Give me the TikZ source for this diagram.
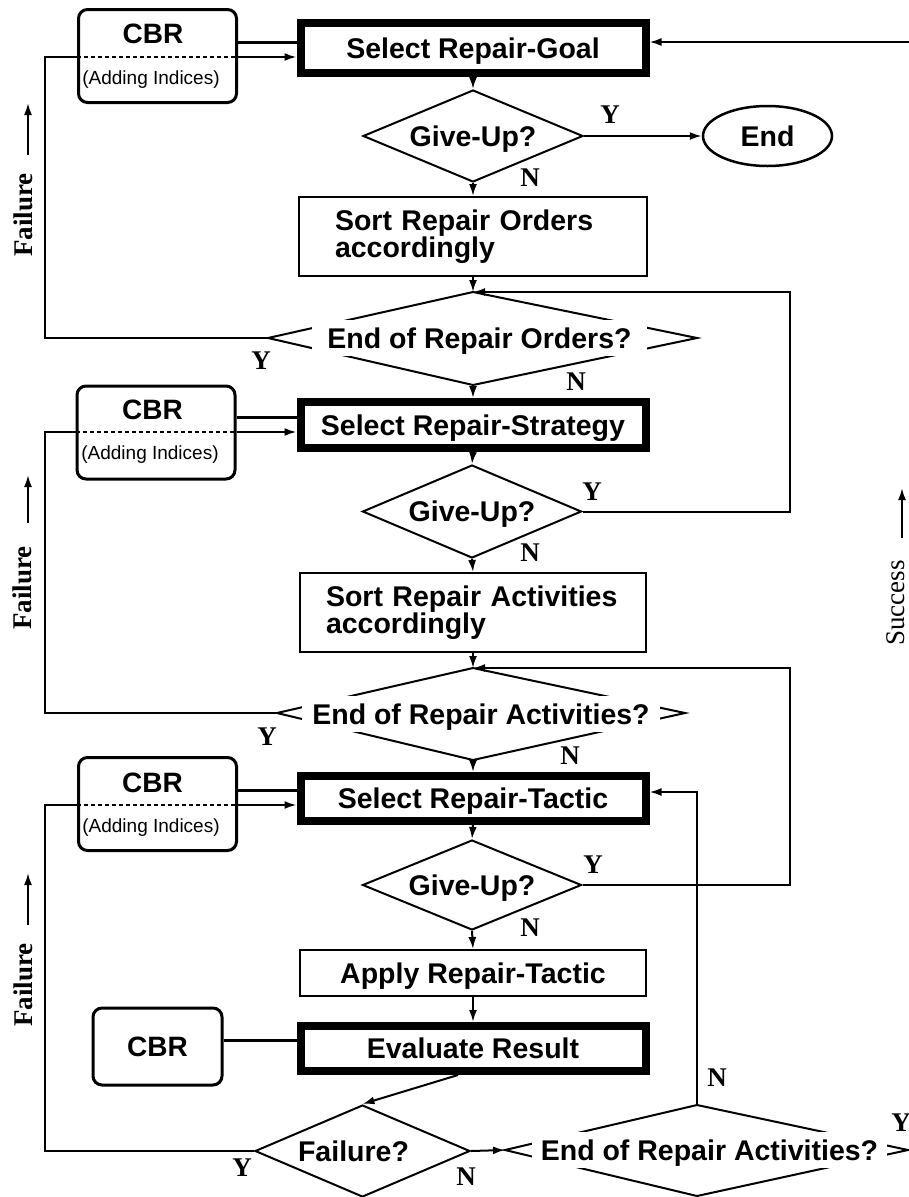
\documentclass[tikz,border=0pt]{standalone}
\usepackage{fontspec}
\setmainfont{Liberation Sans}
\newfontfamily\lblfont{Liberation Serif}
\usetikzlibrary{arrows.meta,shapes.geometric}
\begin{document}
\begin{tikzpicture}[x=1pt,y=-1pt,line width=2pt,
  bftwo/.style={font=\fontsize{28.5}{26}\selectfont\bfseries},
  bf/.style={bftwo, text depth=0pt},
  thickbox/.style={draw, line width=8pt, minimum width=345pt, minimum height=46pt, inner sep=0pt, bf},
  plainbox/.style={draw, line width=2pt, inner sep=0pt},
  cbrbox/.style={draw, line width=3pt, rounded corners=9pt, minimum width=158pt, minimum height=93pt, inner sep=0pt},
  decision/.style={draw, diamond, shape aspect=2.4, line width=2pt, minimum width=219pt, minimum height=92pt, inner sep=0pt, bf},
  gapped/.style={fill=white, inner sep=0pt, minimum height=36pt, bf},
  yn/.style={font=\lblfont\bfseries\fontsize{27}{27}\selectfont},
  sidelbl/.style={font=\lblfont\fontsize{27}{27}\selectfont, inner sep=0pt},
  cbrtext/.style={font=\fontsize{28}{28}\selectfont\bfseries},
  idxtext/.style={font=\fontsize{19}{19}\selectfont},
  arr/.style={-{Latex[length=12pt,width=8pt]}},
  cbrdash/.style={line width=2pt, dash pattern=on 4pt off 3pt},
  cbrlink/.style={line width=3pt}
]
\useasboundingbox (0,0) rectangle (909,1197);

% ---------- level 1 ----------
\node[cbrbox] (cbr1) at (157.5,56) {};
\node[cbrtext] (cbr1a) at (153,34) {CBR};
\node[idxtext] (cbr1b) at (151,80) {(Adding Indices)};
\node[thickbox, minimum height=50pt] (goal) at (473,48) {Select Repair-Goal};
\node[decision, minimum width=220pt] (gu1) at (473,136) {Give-Up?};
\node[draw, ellipse, line width=2.5pt, minimum width=129pt, minimum height=60pt, inner sep=0pt, bf] (end) at (767.5,136) {End};
\node[plainbox, bftwo, align=left, text width=276pt, inner xsep=36pt, minimum height=79pt] (sort1) at (473,236.5) {Sort Repair Orders\\accordingly};

\coordinate (eoT) at (473,292);
\coordinate (eoR) at (697,338);
\coordinate (eoB) at (473,385);
\coordinate (eoL) at (268,338);
\draw (eoT) -- (eoR) -- (eoB) -- (eoL) -- cycle;
\node[gapped, minimum width=335pt] (eo) at (479.5,338) {End of Repair Orders?};

% ---------- level 2 ----------
\node[cbrbox] (cbr2) at (156,432.5) {};
\node[cbrtext] (cbr2a) at (152.5,410) {CBR};
\node[idxtext] (cbr2b) at (150,455) {(Adding Indices)};
\node[thickbox] (strat) at (473,425) {Select Repair-Strategy};
\node[decision, minimum height=93pt] (gu2) at (472,511.5) {Give-Up?};
\node[plainbox, bftwo, align=left, text width=294pt, inner xsep=26pt, minimum height=79pt] (sort2) at (473,612.5) {Sort Repair Activities\\accordingly};

\coordinate (eaT) at (473,668);
\coordinate (eaR) at (685,713);
\coordinate (eaB) at (473,760);
\coordinate (eaL) at (277,713);
\draw (eaT) -- (eaR) -- (eaB) -- (eaL) -- cycle;
\node[gapped, minimum width=358pt] (ea) at (481,714) {End of Repair Activities?};

% ---------- level 3 ----------
\node[cbrbox] (cbr3) at (157.5,804) {};
\node[cbrtext] (cbr3a) at (152.5,783) {CBR};
\node[idxtext] (cbr3b) at (151,828) {(Adding Indices)};
\node[thickbox, minimum height=45pt] (tactic) at (473,798.5) {Select Repair-Tactic};
\node[decision, minimum height=90pt] (gu3) at (472,885) {Give-Up?};
\node[plainbox, bf, minimum width=346pt, minimum height=46pt] (apply) at (473,973) {Apply Repair-Tactic};
\node[cbrbox, cbrtext, minimum width=129pt, minimum height=77pt] (cbr4) at (157.5,1046.5) {CBR};
\node[thickbox, minimum height=45pt] (eval) at (473,1048.5) {Evaluate Result};
\node[decision, minimum width=215pt] (fail) at (362.5,1151) {\hspace*{-18pt}Failure?};

\coordinate (ebT) at (697,1105);
\coordinate (ebR) at (908,1150);
\coordinate (ebB) at (697,1196);
\coordinate (ebL) at (505,1150);
\draw (ebT) -- (ebR) -- (ebB) -- (ebL) -- cycle;
\node[gapped, minimum width=355pt] (eb) at (709.5,1150) {End of Repair Activities?};

% ---------- Y / N labels ----------
\node[yn] (gu1y) at (610,115) {Y};
\node[yn] (gu1n) at (530,178) {N};
\node[yn] (eoy) at (261,361) {Y};
\node[yn] (eon) at (576,382) {N};
\node[yn] (gu2y) at (592,492) {Y};
\node[yn] (gu2n) at (530,553) {N};
\node[yn] (eay) at (267,737) {Y};
\node[yn] (ean) at (570,756) {N};
\node[yn] (gu3y) at (593,865) {Y};
\node[yn] (gu3n) at (530,928) {N};
\node[yn] (faily) at (242,1168) {Y};
\node[yn] (failn) at (466,1177) {N};
\node[yn] (ebn) at (717,1078) {N};
\node[yn] (eby) at (901,1123) {Y};

% ---------- main flow ----------
\draw[arr] (goal.south) -- (gu1.north);
\draw[arr] (gu1.east) -- (end.west);
\draw[arr] (gu1.south) -- (sort1.north);
\draw[arr] (sort1.south) -- (eoT);
\draw[arr] (eoB) -- (strat.north);
\draw[arr] (strat.south) -- (gu2.north);
\draw[arr] (gu2.south) -- (sort2.north);
\draw[arr] (sort2.south) -- (eaT);
\draw[arr] (eaB) -- (tactic.north);
\draw[arr] (tactic.south) -- (gu3.north);
\draw[arr] (gu3.south) -- (apply.north);
\draw[arr] (apply.south) -- (eval.north);
\draw[arr] ([xshift=-15pt]eval.south) -- (fail.north);
\draw[arr] (fail.east) -- (ebL);

% ---------- right loops ----------
\coordinate (r1) at (790,292);
\draw[arr] (gu2.east) -| (r1) -- (eoT);
\coordinate (r2) at (790,668);
\draw[arr] (gu3.east) -| (r2) -- (eaT);
\coordinate (r3) at (697,792);
\draw[arr] (ebT) -- (r3) -- (r3 -| tactic.east);
\coordinate (sc) at (909,42);
\draw[arr] (sc) -- (sc -| goal.east);

% ---------- CBR links and failure loops ----------
\coordinate (s1) at (0,42);
\draw[cbrlink] (s1 -| cbr1.east) -- (s1 -| goal.west);
\coordinate (l1) at (45,57);
\draw (eoL) -| (l1) -- (l1 -| cbr1.west);
\draw[cbrdash] (l1 -| cbr1.west) -- (l1 -| cbr1.east);
\draw[arr] (l1 -| cbr1.east) -- (l1 -| goal.west);

\coordinate (s2) at (0,417);
\draw[cbrlink] (s2 -| cbr2.east) -- (s2 -| strat.west);
\coordinate (l2) at (45,432);
\draw (eaL) -| (l2) -- (l2 -| cbr2.west);
\draw[cbrdash] (l2 -| cbr2.west) -- (l2 -| cbr2.east);
\draw[arr] (l2 -| cbr2.east) -- (l2 -| strat.west);

\coordinate (s3) at (0,790);
\draw[cbrlink] (s3 -| cbr3.east) -- (s3 -| tactic.west);
\coordinate (l3) at (45,805);
\draw (fail.west) -| (l3) -- (l3 -| cbr3.west);
\draw[cbrdash] (l3 -| cbr3.west) -- (l3 -| cbr3.east);
\draw[arr] (l3 -| cbr3.east) -- (l3 -| tactic.west);

\coordinate (s4) at (0,1040);
\draw[cbrlink] (s4 -| cbr4.east) -- (s4 -| eval.west);

% ---------- side labels ----------
\node[yn, rotate=90] (fl1) at (23,215) {Failure};
\coordinate (fa1a) at (28,155);
\coordinate (fa1b) at (28,103);
\draw[arr] (fa1a) -- (fa1b);
\node[yn, rotate=90] (fl2) at (22.5,588) {Failure};
\coordinate (fa2a) at (28,523);
\coordinate (fa2b) at (28,475);
\draw[arr] (fa2a) -- (fa2b);
\node[yn, rotate=90] (fl3) at (23,985) {Failure};
\coordinate (fa3a) at (28,925);
\coordinate (fa3b) at (28,873);
\draw[arr] (fa3a) -- (fa3b);
\node[sidelbl, rotate=90] (succ) at (896,603) {Success};
\coordinate (sua) at (902,538);
\coordinate (sub) at (902,488);
\draw[arr] (sua) -- (sub);
\end{tikzpicture}
\end{document}
